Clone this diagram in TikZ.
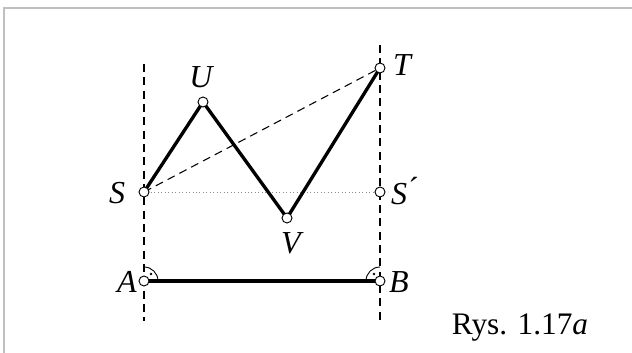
\documentclass[tikz,border=0pt]{standalone}
\usepackage{fontspec}
\setmainfont{Liberation Serif}
\usetikzlibrary{calc}
\begin{document}
\begin{tikzpicture}[x=0.75pt,y=0.75pt,
  pt/.style={circle,draw=black,fill=white,line width=0.7pt,inner sep=0pt,minimum size=7.5pt},
  lbl/.style={font=\fontsize{24}{28}\selectfont\itshape,inner sep=0pt},
  thick line/.style={line width=2.5pt},
  guide/.style={dashed,line width=0.8pt,dash pattern=on 6pt off 4pt},
  frame/.style={draw=black!25,line width=1.5pt}]
\useasboundingbox (0,0) rectangle (632,-353);
\draw[frame] (4,-353) -- (4,-8) -- (632,-8);
% points
\coordinate (S) at (144,-192);
\coordinate (U) at (203,-102);
\coordinate (V) at (287,-218);
\coordinate (T) at (380,-68);
\coordinate (S2) at (380,-192);
\coordinate (A) at (144,-281);
\coordinate (B) at (380,-281);
\coordinate (L1) at (144,-64);
\coordinate (L2) at (144,-321);
\coordinate (R1) at (380,-45);
\coordinate (R2) at (380,-322);
% guides
\draw[guide] (L1) -- (L2);
\draw[guide] (R1) -- (R2);
\draw[guide] (S) -- (T);
\draw[dotted,black!45,line width=0.6pt] (S) -- (S2);
% polyline
\draw[thick line,line join=miter] (S) -- (U) -- (V) -- (T);
\draw[thick line] (A) -- (B);
% right angles
\draw[line width=0.7pt] ($(A)+(14,0)$) arc[start angle=0,end angle=90,radius=14];
\fill ($(A)+(7,7)$) circle[radius=1.4];
\draw[line width=0.7pt] ($(B)+(0,14)$) arc[start angle=90,end angle=180,radius=14];
\fill ($(B)+(-6,7)$) circle[radius=1.4];
% point markers
\foreach \p in {S,U,V,T,S2,A,B} \node[pt] (m\p) at (\p) {};
% labels
\node[lbl] (lS) at (117,-193) {S};
\node[lbl] (lU) at (201,-77) {U};
\node[lbl] (lV) at (291,-243) {V};
\node[lbl] (lT) at (402,-65) {T};
\node[lbl] (lS2) at (405,-191) {S\kern1pt\raisebox{0.3ex}{\upshape\char"00B4}};
\node[lbl] (lA) at (127,-282) {A};
\node[lbl] (lB) at (399,-282) {B};
\node[font=\fontsize{23.5}{27}\selectfont,inner sep=0pt] (cap) at (520,-328) {Rys. 1.17\textit{a}};
\end{tikzpicture}
\end{document}
